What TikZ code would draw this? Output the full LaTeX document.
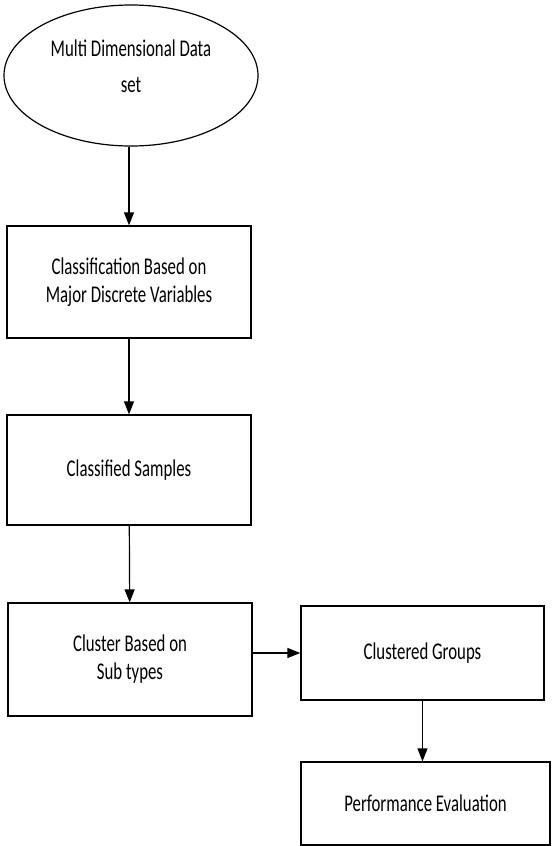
\documentclass[tikz,border=0pt]{standalone}
\usepackage{fontspec}
\setmainfont[FakeStretch=0.7]{Carlito}
\usetikzlibrary{shapes.geometric,arrows.meta}

\begin{document}
\begin{tikzpicture}[x=1pt,y=-1pt,line width=1.2pt,-{Triangle[width=10pt,length=13pt]}]
		\tikzstyle{stage}=[draw,shape=rectangle,minimum width=244pt,align=center,font=\fontsize{24}{28}\selectfont]
		\tikzstyle{source}=[draw,shape=ellipse,minimum width=254pt,minimum height=141pt]
		\useasboundingbox (0,0) rectangle (552,846);

		\node[source,label={[yshift=9.5pt,align=center,font=\fontsize{24}{28}\selectfont]center:Multi Dimensional Data\\[8pt]set}](data) at (131,75.5){};
		\node[stage,minimum height=112pt](classify) at (129,282){Classification Based on\\Major Discrete Variables};
		\node[stage,minimum height=110pt](samples) at (129,470){Classified Samples};
		\node[stage,minimum height=113pt](subtype) at (130,659.5){Cluster Based on\\Sub types};
		\node[stage,minimum width=243pt,minimum height=94pt](groups) at (422.5,653){Clustered Groups};
		\node[stage,minimum width=249pt,minimum height=83pt](evaluate) at (425.5,803.5){Performance Evaluation};

		\draw (data.south -| classify.north) -- (classify.north);
		\draw (classify) -- (samples);
		\draw (samples) -- (subtype);
		\draw (subtype.east |- groups.west) -- (groups.west);
		\draw (groups.south) -- (groups.south |- evaluate.north);
	\end{tikzpicture}
\end{document}
